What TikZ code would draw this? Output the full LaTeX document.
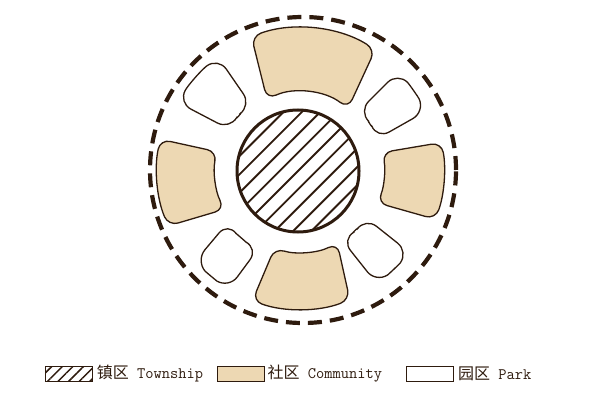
\documentclass[tikz,border=0pt]{standalone}
\usepackage{fontspec}
\newfontfamily\cjk{Noto Sans CJK SC}
\usetikzlibrary{positioning,patterns.meta}
\definecolor{outline}{HTML}{2E1B0E}
\definecolor{commfill}{HTML}{EDD8B3}
\tikzset{
  comm/.style={draw=outline,line width=1.3pt,fill=commfill,rounded corners=10pt},
  park/.style={draw=outline,line width=1.3pt,fill=white,rounded corners=14pt},
  coreline/.style={draw=outline,line width=3pt},
  hatchln/.style={draw=outline,line width=1.9pt},
  bound/.style={draw=outline,line width=4.2pt,dash pattern=on 14pt off 8pt},
  legbox/.style={rectangle,draw=outline,line width=0.9pt,minimum width=47pt,minimum height=15pt,inner sep=0pt},
  leglbl/.style={anchor=west,inner sep=0pt,text=outline,
    font=\fontsize{16}{16}\selectfont\ttfamily\addfontfeature{FakeBold=1.2}},
}

\begin{document}
\begin{tikzpicture}[x=1pt,y=1pt]
  \useasboundingbox (0,0) rectangle (612,397);
  \coordinate (ring) at (300,227);
  \coordinate (core) at (298,226);
  \coordinate (edge) at (303,227);

  % outer boundary
  \draw[bound] (edge) circle[radius=153];

  % communities and parks round the core
  \begin{scope}[shift={(ring)}]
    \foreach \ia/\ib/\oa/\ob/\ri/\ro in {52/115/58/110/78/142, -23/12/-20/11/84/144,
        167.6/207.5/167.6/203/85/143, 252/297/250/291/82/139}
      \draw[comm] (\oa:\ro) arc[start angle=\oa,end angle=\ob,radius=\ro]
        -- (\ib:\ri) arc[start angle=\ib,end angle=\ia,radius=\ri] -- cycle;
    \foreach \ia/\ib/\oa/\ob/\ri/\ro in {127/150/126/151/81/139, 22/45/25/45/83/138,
        216/242/221/239/89/138, 301/324/304/323/81/136}
      \draw[park] (\oa:\ro) arc[start angle=\oa,end angle=\ob,radius=\ro]
        -- (\ib:\ri) arc[start angle=\ib,end angle=\ia,radius=\ri] -- cycle;
  \end{scope}

  % township core
  \begin{scope}[shift={(core)},rotate=45]
    \clip (0,0) circle[radius=61];
    \foreach \k in {-65,-52,...,65}
      \draw[hatchln] (-70,\k) -- (70,\k);
  \end{scope}
  \draw[coreline] (core) circle[radius=61];

  % legend
  \node[legbox,pattern={Lines[angle=45,distance=7.5pt,line width=1.5pt]},pattern color=outline] (town) at (68.5,23) {};
  \node[leglbl,right=4pt of town] (townlbl) {{\cjk 镇区} Township};
  \node[legbox,fill=commfill] (commbox) at (240.5,23) {};
  \node[leglbl,right=3pt of commbox] (commlbl) {{\cjk 社区} Community};
  \node[legbox,fill=white] (parkbox) at (430,23) {};
  \node[leglbl,right=4pt of parkbox] (parklbl) {{\cjk 园区} Park};
\end{tikzpicture}
\end{document}
